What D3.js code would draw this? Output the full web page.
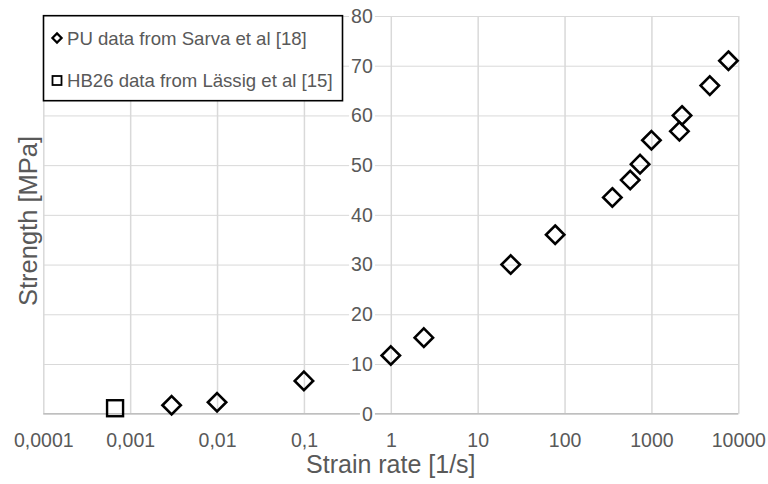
<!DOCTYPE html>
<html>
<head>
<meta charset="utf-8">
<script src="https://cdn.jsdelivr.net/npm/d3@7"></script>
<style>
  html, body { margin: 0; padding: 0; background: #ffffff; }
  svg { display: block; font-family: "Liberation Sans", Arial, sans-serif; }
</style>
</head>
<body>
<svg id="chart" width="768" height="484"></svg>
<script>
// ---- data ----
const puRate     = [0.003, 0.01, 0.1, 1, 2.4, 24, 78, 355, 570, 740, 1000, 2100, 2250, 4700, 7700];
const puStrength = [1.7, 2.3, 6.6, 11.7, 15.3, 30, 36, 43.5, 47, 50.2, 55, 56.8, 60, 66, 71];
const hbRate     = [0.00067];
const hbStrength = [1.1];
const xTickValues = [0.0001, 0.001, 0.01, 0.1, 1, 10, 100, 1000, 10000];
const xTickLabels = ["0,0001", "0,001", "0,01", "0,1", "1", "10", "100", "1000", "10000"];
const yTickValues = [0, 10, 20, 30, 40, 50, 60, 70, 80];
const seriesNames = ["PU data from Sarva et al [18]", "HB26 data from Lässig et al [15]"];
const xTitle = "Strain rate [1/s]";
const yTitle = "Strength [MPa]";

// ---- layout ----
const svg = d3.select("#chart");
const x = d3.scaleLog().domain([1e-4, 1e4]).range([43.3, 738.3]);
const y = d3.scaleLinear().domain([0, 80]).range([413.7, 16]);
const textColor = "#595959";
const gridColor = "#d9d9d9";

// horizontal gridlines
svg.append("g")
  .attr("transform", `translate(${x.range()[0]},0)`)
  .call(d3.axisRight(y).tickValues(yTickValues).tickSize(x.range()[1] - x.range()[0]).tickFormat(""))
  .call(g => g.select(".domain").remove())
  .call(g => g.selectAll("line").attr("stroke", gridColor).attr("stroke-width", 1));

// vertical gridlines
svg.append("g")
  .attr("transform", `translate(0,${y.range()[1]})`)
  .call(d3.axisBottom(x).tickValues(xTickValues).tickSize(y.range()[0] - y.range()[1]).tickFormat(""))
  .call(g => g.select(".domain").remove())
  .call(g => g.selectAll("line").attr("stroke", gridColor).attr("stroke-width", 1.5));

// x axis line at y = 0
svg.append("line")
  .attr("x1", x.range()[0]).attr("x2", x.range()[1])
  .attr("y1", y(0)).attr("y2", y(0))
  .attr("stroke", "#bfbfbf").attr("stroke-width", 1.5);

// x tick labels
const xAxis = svg.append("g")
  .attr("transform", `translate(0,${y(0)})`)
  .call(d3.axisBottom(x).tickValues(xTickValues).tickSize(0)
        .tickFormat((d, i) => xTickLabels[i]));
xAxis.select(".domain").remove();
xAxis.selectAll("text")
  .attr("y", 0).attr("dy", 0)
  .attr("transform", "translate(0,33)")
  .attr("fill", textColor)
  .style("font-size", "19.5px")
  .style("font-family", "'Liberation Sans', Arial, sans-serif");

// y tick labels (axis crosses at x = 1)
const yAxisX = x(1) - 18;
const yLab = svg.append("g");
yTickValues.forEach(v => {
  const t = yLab.append("text")
    .attr("x", yAxisX).attr("y", y(v)).attr("dy", "0.35em")
    .attr("text-anchor", "end")
    .attr("fill", textColor)
    .style("font-size", "19.5px")
    .text(v);
  const bb = t.node().getBBox();
  yLab.insert("rect", "text")
    .attr("x", bb.x - 2).attr("y", y(v) - 3)
    .attr("width", bb.width + 4).attr("height", 6)
    .attr("fill", "#ffffff");
});

// axis titles
svg.append("text")
  .attr("x", x(1)).attr("y", 473)
  .attr("text-anchor", "middle")
  .attr("fill", textColor)
  .style("font-size", "25px")
  .text(xTitle);
svg.append("text")
  .attr("transform", `translate(37,221) rotate(-90)`)
  .attr("text-anchor", "middle")
  .attr("fill", textColor)
  .style("font-size", "25.5px")
  .text(yTitle);

// markers
const diamond = (cx, cy, r) => `M${cx},${cy - r}L${cx + r},${cy}L${cx},${cy + r}L${cx - r},${cy}Z`;
svg.append("g").selectAll("path")
  .data(puRate.map((r, i) => [r, puStrength[i]]))
  .join("path")
  .attr("d", d => diamond(x(d[0]), y(d[1]), 9.2))
  .attr("fill", "none").attr("stroke", "#000").attr("stroke-width", 2.6);
svg.append("g").selectAll("rect")
  .data(hbRate.map((r, i) => [r, hbStrength[i]]))
  .join("rect")
  .attr("x", d => x(d[0]) - 8).attr("y", d => y(d[1]) - 8)
  .attr("width", 16).attr("height", 16)
  .attr("fill", "none").attr("stroke", "#000").attr("stroke-width", 2.4);

// legend
const lg = svg.append("g");
lg.append("rect")
  .attr("x", 43.5).attr("y", 15.7).attr("width", 299).attr("height", 85)
  .attr("fill", "#ffffff").attr("stroke", "#000").attr("stroke-width", 1.6);
lg.append("path").attr("d", diamond(57, 38, 4.6))
  .attr("fill", "none").attr("stroke", "#000").attr("stroke-width", 2.2);
lg.append("rect").attr("x", 52.5).attr("y", 76).attr("width", 9).attr("height", 9)
  .attr("fill", "none").attr("stroke", "#000").attr("stroke-width", 1.8);
seriesNames.forEach((n, i) => {
  lg.append("text")
    .attr("x", 67).attr("y", i === 0 ? 45 : 87.3)
    .attr("fill", textColor)
    .style("font-size", "18.6px")
    .text(n);
});
</script>
</body>
</html>
